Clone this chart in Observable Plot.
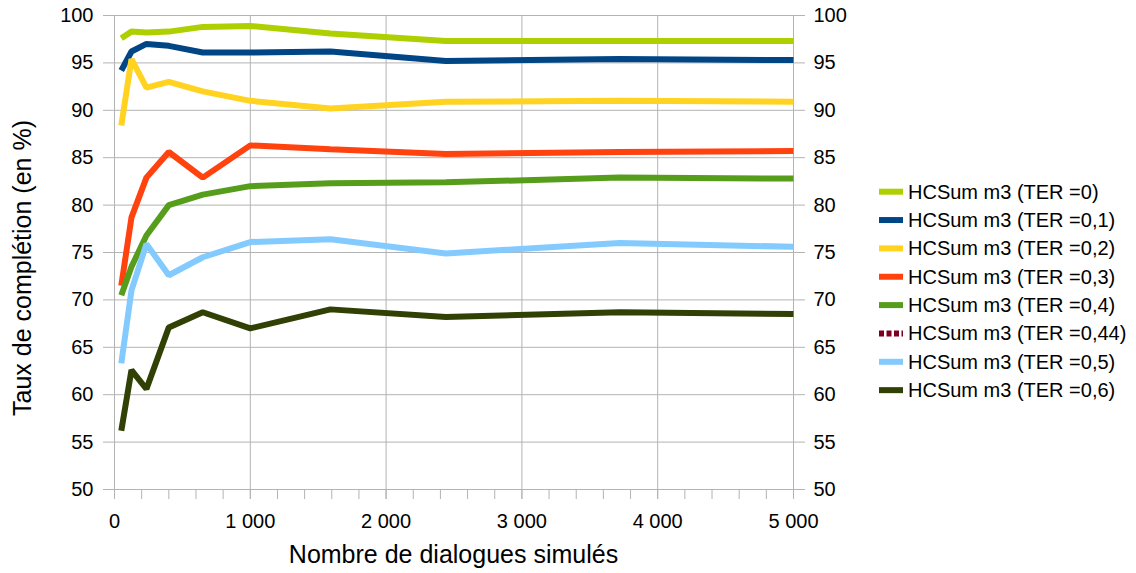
<!DOCTYPE html>
<html>
<head>
<meta charset="utf-8">
<script src="https://cdn.jsdelivr.net/npm/d3@7"></script>
<script src="https://cdn.jsdelivr.net/npm/@observablehq/plot@0.6"></script>
<style>
  html, body { margin: 0; padding: 0; background: #fff; }
  #wrap { position: relative; width: 1136px; height: 573px; font-family: "Liberation Sans", Arial, sans-serif; }
  #wrap svg { position: absolute; left: 0; top: 0; }
</style>
</head>
<body>
<div id="wrap"></div>
<script>
// ---- data ----
const dialogues = [50, 125, 235, 400, 650, 1000, 1590, 2440, 3720, 5000];
const seriesNames = [
  "HCSum m3 (TER =0)", "HCSum m3 (TER =0,1)", "HCSum m3 (TER =0,2)", "HCSum m3 (TER =0,3)",
  "HCSum m3 (TER =0,4)", "HCSum m3 (TER =0,44)", "HCSum m3 (TER =0,5)", "HCSum m3 (TER =0,6)"
];
const seriesColors = ["#aecf00", "#004586", "#ffd320", "#ff420e", "#579d1c", "#7e0021", "#83caff", "#314004"];
const ter0   = [97.6, 98.3, 98.2, 98.3, 98.8, 98.9, 98.1, 97.3, 97.3, 97.3];
const ter01  = [94.2, 96.2, 97.0, 96.8, 96.1, 96.1, 96.2, 95.2, 95.4, 95.3];
const ter02  = [88.4, 95.4, 92.4, 93.0, 92.0, 91.0, 90.2, 90.9, 91.0, 90.9];
const ter03  = [71.5, 78.7, 82.9, 85.6, 82.9, 86.3, 85.9, 85.4, 85.6, 85.7];
const ter04  = [70.5, 73.5, 76.8, 80.0, 81.1, 82.0, 82.3, 82.4, 82.9, 82.8];
const ter044 = []; // present in legend only
const ter05  = [63.3, 71.0, 75.9, 72.6, 74.5, 76.1, 76.4, 74.9, 76.0, 75.6];
const ter06  = [56.2, 62.6, 60.6, 67.1, 68.7, 67.0, 69.0, 68.2, 68.7, 68.5];
const yTicks = [50, 55, 60, 65, 70, 75, 80, 85, 90, 95, 100];
const xTicks = [0, 1000, 2000, 3000, 4000, 5000];
const xMinorTicks = d3.range(0, 5001, 200);
const xTitle = "Nombre de dialogues simulés";
const yTitle = "Taux de complétion (en %)";

const allSeries = [ter0, ter01, ter02, ter03, ter04, ter044, ter05, ter06];
const rows = [];
allSeries.forEach((vals, i) => vals.forEach((v, j) => rows.push({series: seriesNames[i], x: dialogues[j], y: v})));

const fmt = d => d3.format(",")(d).replace(/,/g, " ");
const grid = "#b3b3b3";

const chart = Plot.plot({
  width: 1136,
  height: 573,
  marginLeft: 114,
  marginRight: 343,
  marginTop: 15,
  marginBottom: 84,
  style: {fontFamily: "'Liberation Sans', Arial, sans-serif", fontSize: "20px", color: "#000", background: "transparent"},
  x: {domain: [0, 5000]},
  y: {domain: [50, 100]},
  color: {domain: seriesNames, range: seriesColors},
  marks: [
    Plot.gridY(yTicks, {stroke: grid, strokeOpacity: 1, strokeWidth: 1}),
    Plot.gridX(xTicks, {stroke: grid, strokeOpacity: 1, strokeWidth: 1}),
    Plot.axisX(xMinorTicks, {tickSize: 10, tickFormat: () => "", stroke: grid, label: null}),
    Plot.axisX(xTicks, {tickSize: 10, tickPadding: 14, tickFormat: fmt, stroke: grid, fill: "#000", label: null}),
    Plot.axisY(yTicks, {anchor: "left", tickSize: 11, tickPadding: 10, stroke: grid, fill: "#000", label: null}),
    Plot.axisY(yTicks, {anchor: "right", tickSize: 11, tickPadding: 9, stroke: grid, fill: "#000", label: null}),
    Plot.line(rows, {x: "x", y: "y", z: "series", stroke: "series", strokeWidth: 6, strokeLinejoin: "miter", strokeLinecap: "butt"})
  ]
});
const wrap = document.getElementById("wrap");
wrap.appendChild(chart);

// overlay: axis titles + legend
const ov = d3.create("svg").attr("width", 1136).attr("height", 573)
  .style("font-family", "'Liberation Sans', Arial, sans-serif");
ov.append("text").attr("x", 453.5).attr("y", 563).attr("text-anchor", "middle")
  .attr("font-size", 25).text(xTitle);
ov.append("text").attr("transform", "translate(31,268) rotate(-90)").attr("text-anchor", "middle")
  .attr("font-size", 25).text(yTitle);
const leg = ov.append("g");
seriesNames.forEach((name, i) => {
  const cy = 191.7 + i * 28.35;
  const ln = leg.append("line").attr("x1", 879).attr("x2", 903).attr("y1", cy).attr("y2", cy)
    .attr("stroke", seriesColors[i]).attr("stroke-width", 6);
  if (name.endsWith("0,44)")) ln.attr("stroke-dasharray", "5,2.5");
  leg.append("text").attr("x", 908).attr("y", cy + 7).attr("font-size", 20).text(name);
});
wrap.appendChild(ov.node());
</script>
</body>
</html>
